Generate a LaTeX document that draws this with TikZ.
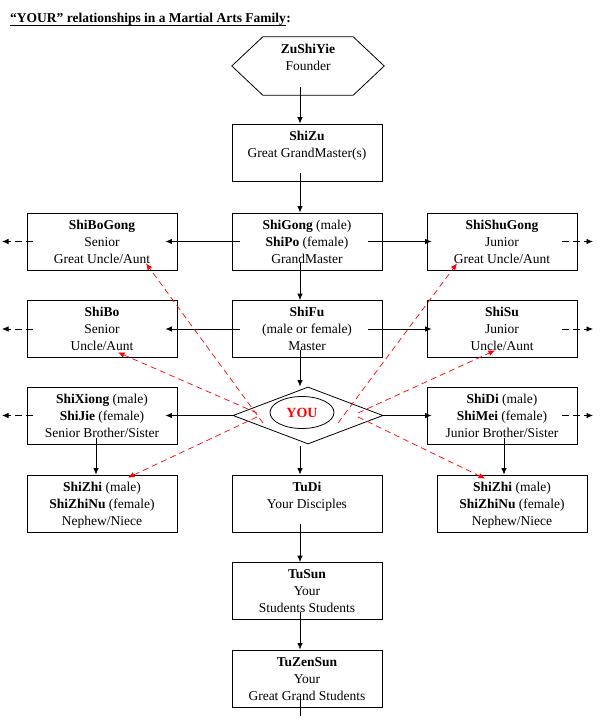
\documentclass[tikz,border=0pt]{standalone}
\usepackage{fontspec}
\setmainfont{Liberation Serif}
\usetikzlibrary{arrows.meta,shapes.geometric}
\newcommand\bxt[2][57pt]{\parbox[c][#1][t]{150pt}{\centering\vspace*{4.5pt}\strut #2\par}}
\tikzset{
  box/.style={draw, line width=0.8pt, rectangle, inner sep=0pt, minimum width=150pt, minimum height=57pt},
  arr/.style={line width=0.8pt, -{Latex[length=6.5pt,width=5.5pt]}},
  sidedash/.style={arr, dash pattern=on 7pt off 4pt},
  reddash/.style={red, line width=0.7pt, dash pattern=on 6pt off 4pt, -{Latex[length=6.5pt,width=5.5pt]}},
}
\begin{document}
\begin{tikzpicture}[x=1pt,y=-1pt, font=\fontsize{13.5}{17}\selectfont]
\useasboundingbox (0,0) rectangle (601,720);

% title
\node[anchor=base west, inner sep=0pt, font=\bfseries\fontsize{13.5}{16}\selectfont] (title) at (10,23)
  {“YOUR” relationships in a Martial Arts Family};
\node[anchor=base west, inner sep=0pt, font=\bfseries\fontsize{13.5}{16}\selectfont] (colon) at (title.base east) {:};
\draw[line width=0.9pt] ([yshift=-2.5pt]title.base west) -- ([yshift=-2.5pt]title.base east);

% founder hexagon
\node[inner sep=0pt, minimum width=152pt, minimum height=58pt] (zu) at (308,66) {\bxt[58pt]{\textbf{ZuShiYie}\\Founder}};
\draw[line width=0.8pt] (zu.west) -- ([xshift=31pt]zu.north west) -- ([xshift=-31pt]zu.north east) -- (zu.east)
  -- ([xshift=-31pt]zu.south east) -- ([xshift=31pt]zu.south west) -- cycle;

% central column
\node[box] (shizu) at (307,152.5) {\bxt{\textbf{ShiZu}\\Great GrandMaster(s)}};
\node[box] (shigong) at (307,241.5) {\bxt{\textbf{ShiGong} (male)\\\textbf{ShiPo} (female)\\GrandMaster}};
\node[box] (shifu) at (307,329) {\bxt{\textbf{ShiFu}\\(male or female)\\Master}};
\node[diamond, draw, line width=0.8pt, inner sep=0pt, minimum width=150pt, minimum height=57pt] (dia) at (308,415.5) {};
\node[ellipse, draw, line width=0.8pt, inner sep=0pt, minimum width=64pt, minimum height=32pt, text=red,
  font=\bfseries\fontsize{14}{16}\selectfont] (you) at (302,412.5) {YOU};
\node[box] (tudi) at (307,503.5) {\bxt{\textbf{TuDi}\\Your Disciples}};
\node[box] (tusun) at (307,591) {\bxt{\textbf{TuSun}\\Your\\Students Students}};
\node[box] (tuzensun) at (307,678.5) {\bxt{\textbf{TuZenSun}\\Your\\Great Grand Students}};

% left column
\node[box] (shibogong) at (102,241.5) {\bxt{\textbf{ShiBoGong}\\Senior\\Great Uncle/Aunt}};
\node[box] (shibo) at (102,329) {\bxt{\textbf{ShiBo}\\Senior\\Uncle/Aunt}};
\node[box] (shixiong) at (102,415.5) {\bxt{\textbf{ShiXiong} (male)\\\textbf{ShiJie} (female)\\Senior Brother/Sister}};
\node[box] (shizhiL) at (102,503.5) {\bxt{\textbf{ShiZhi} (male)\\\textbf{ShiZhiNu} (female)\\Nephew/Niece}};

% right column
\node[box] (shishugong) at (502,241.5) {\bxt{\textbf{ShiShuGong}\\Junior\\Great Uncle/Aunt}};
\node[box] (shisu) at (502,329) {\bxt{\textbf{ShiSu}\\Junior\\Uncle/Aunt}};
\node[box] (shidi) at (502,415.5) {\bxt{\textbf{ShiDi} (male)\\\textbf{ShiMei} (female)\\Junior Brother/Sister}};
\node[box] (shizhiR) at (512,503.5) {\bxt{\textbf{ShiZhi} (male)\\\textbf{ShiZhiNu} (female)\\Nephew/Niece}};

% free ends
\coordinate (l1) at (2,241.5);
\coordinate (l2) at (2,329);
\coordinate (l3) at (2,415.5);
\coordinate (r1) at (593,241.5);
\coordinate (r2) at (593,329);
\coordinate (r3) at (593,415.5);
\coordinate (down) at (300,716);

% vertical arrows
\draw[arr] ([shift={(-8,-8)}]zu.south) -- ([xshift=-7pt]shizu.north);
\draw[arr] ([shift={(-7,-8)}]shizu.south) -- ([xshift=-7pt]shigong.north);
\draw[arr] ([shift={(-7,-8)}]shigong.south) -- ([xshift=-7pt]shifu.north);
\draw[arr] ([shift={(-7,-8)}]shifu.south) -- ([xshift=-8pt]dia.north);
\draw[arr] ([shift={(-8,2)}]dia.south) -- ([xshift=-7pt]tudi.north);
\draw[arr] ([shift={(-7,-8)}]tudi.south) -- ([xshift=-7pt]tusun.north);
\draw[arr] ([shift={(-7,-8)}]tusun.south) -- ([xshift=-7pt]tuzensun.north);
\draw[line width=0.8pt] ([shift={(-7,-8)}]tuzensun.south) -- (down);
\draw[arr] ([shift={(-6,-6)}]shixiong.south) -- ([xshift=-6pt]shizhiL.north);
\draw[arr] ([shift={(2,-6)}]shidi.south) -- ([xshift=-8pt]shizhiR.north);

% horizontal arrows
\draw[arr] ([xshift=8pt]shigong.west) -- ([xshift=-12pt]shibogong.east);
\draw[arr] ([xshift=-14pt]shigong.east) -- ([xshift=5pt]shishugong.west);
\draw[arr] ([xshift=8pt]shifu.west) -- ([xshift=-12pt]shibo.east);
\draw[arr] ([xshift=-14pt]shifu.east) -- ([xshift=5pt]shisu.west);
\draw[arr] (dia.west) -- ([xshift=-12pt]shixiong.east);
\draw[arr] (dia.east) -- ([xshift=5pt]shidi.west);

% outward dashed arrows
\draw[sidedash] ([xshift=6pt]shibogong.west) -- (l1);
\draw[sidedash] ([xshift=6pt]shibo.west) -- (l2);
\draw[sidedash] ([xshift=6pt]shixiong.west) -- (l3);
\draw[sidedash] ([xshift=-15pt]shishugong.east) -- (r1);
\draw[sidedash] ([xshift=-15pt]shisu.east) -- (r2);
\draw[sidedash] ([xshift=-15pt]shidi.east) -- (r3);

% red dashed relations from YOU
\draw[reddash] ([shift={(-45,7.5)}]dia.center) -- ([shift={(44,-7)}]shibogong.south);
\draw[reddash] ([shift={(-51,-2.5)}]dia.center) -- ([shift={(16,-5.5)}]shibo.south);
\draw[reddash] ([shift={(-51,1.5)}]dia.center) -- ([shift={(26,3)}]shizhiL.north);
\draw[reddash] ([shift={(30,7.5)}]dia.center) -- ([shift={(-45,-7)}]shishugong.south);
\draw[reddash] ([shift={(50,-2.5)}]dia.center) -- ([shift={(-7,-7.5)}]shisu.south);
\draw[reddash] ([shift={(50,1.5)}]dia.center) -- ([shift={(-27,4)}]shizhiR.north);
\end{tikzpicture}
\end{document}
